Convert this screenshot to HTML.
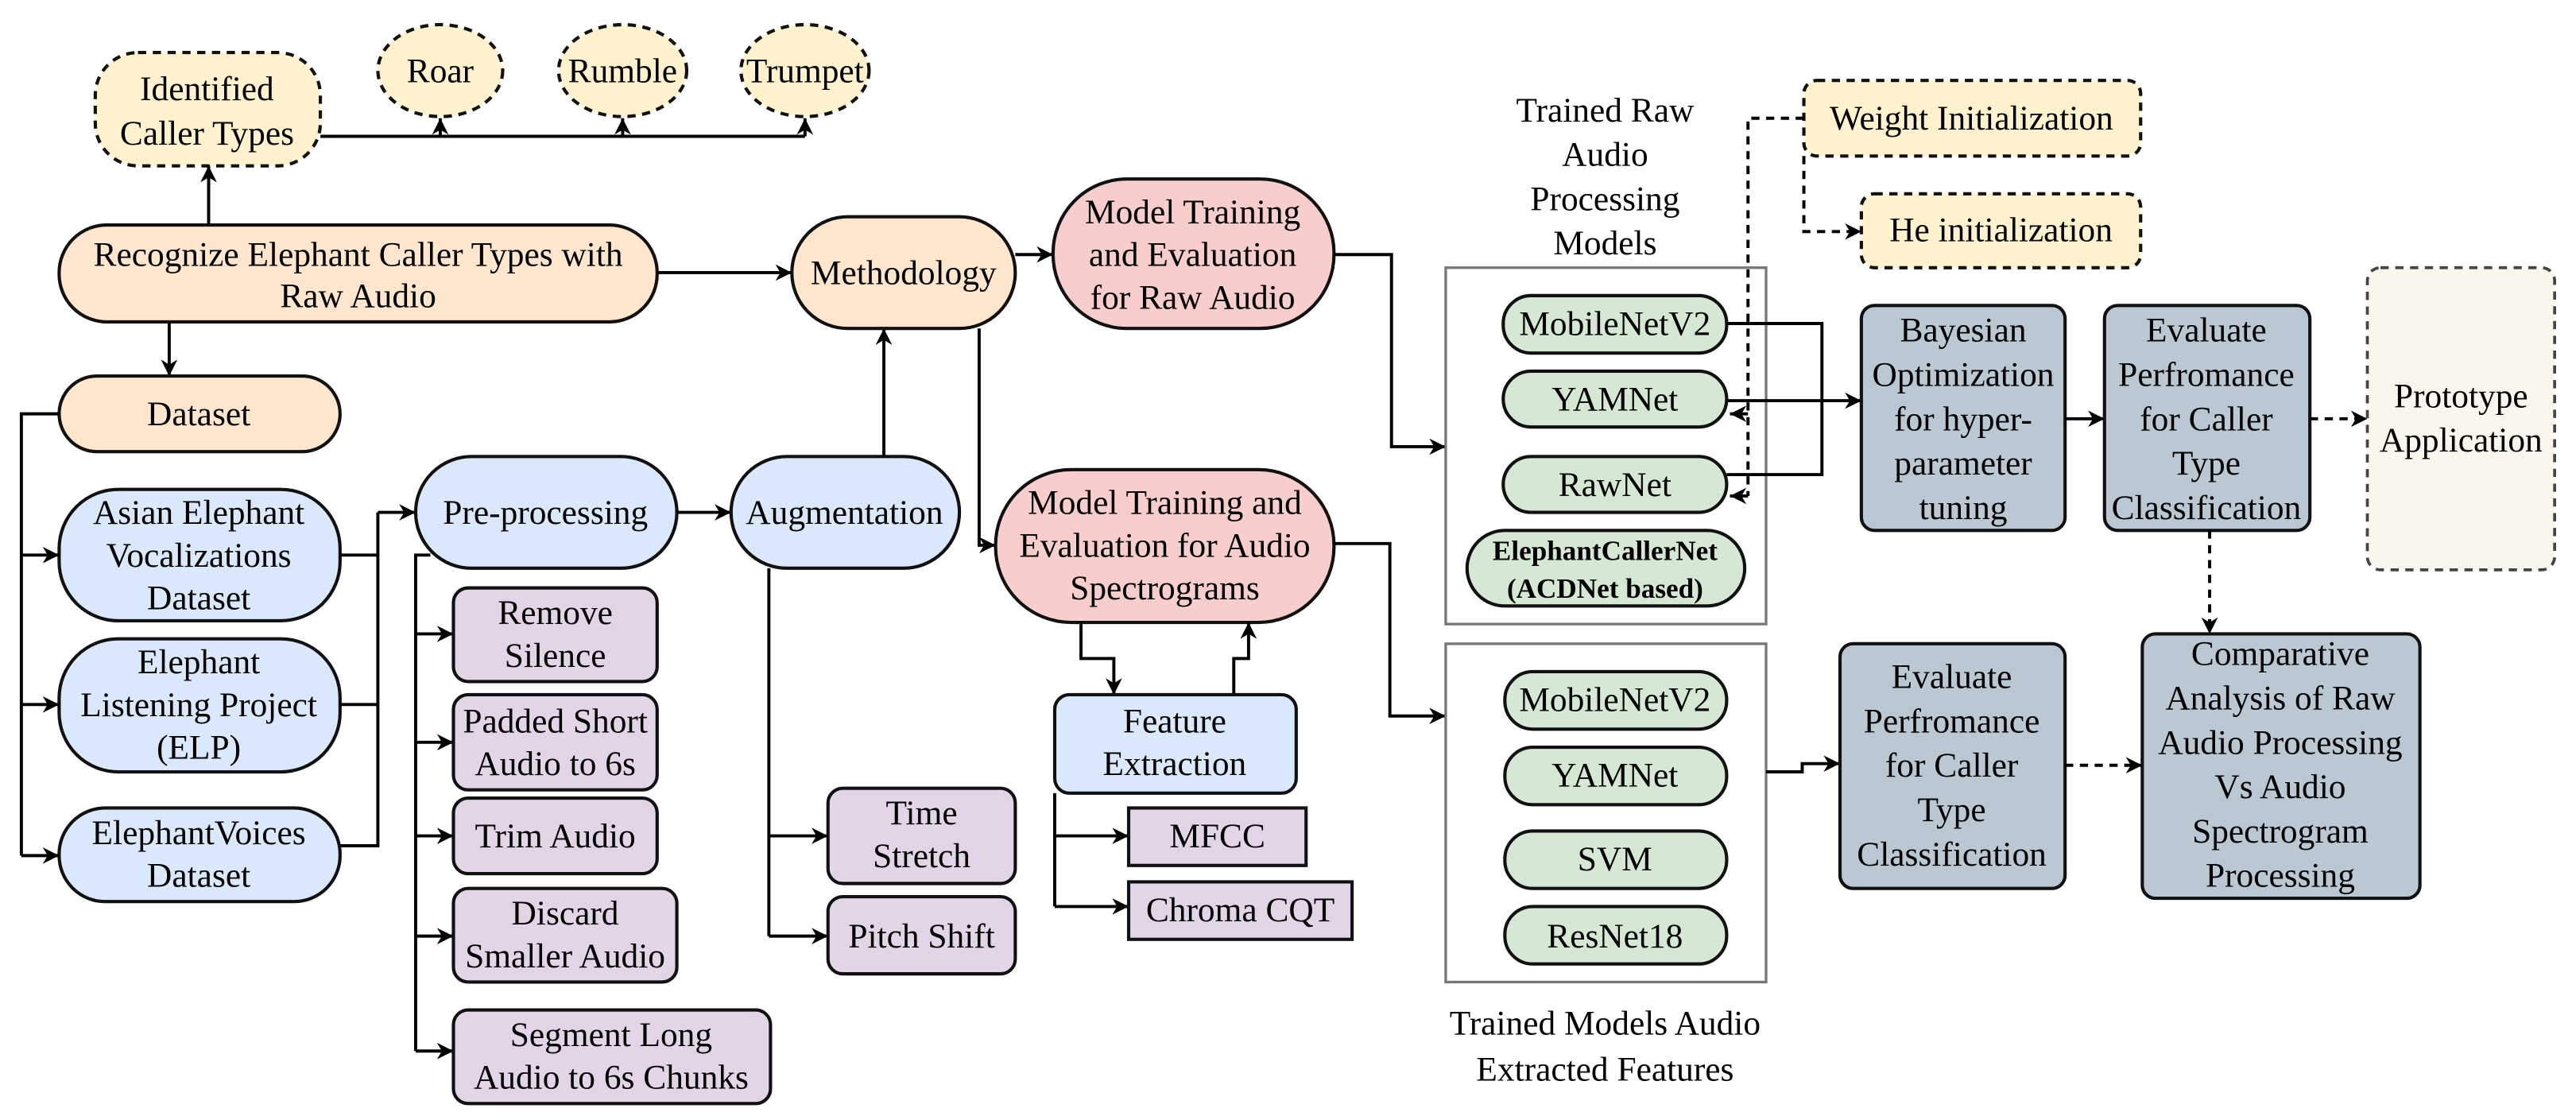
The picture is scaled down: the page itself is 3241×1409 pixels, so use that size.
<!DOCTYPE html>
<html><head><meta charset="utf-8"><style>
html,body{margin:0;padding:0;background:#fff;}
svg{display:block;}
svg text{font-family:"Liberation Serif","DejaVu Serif","Times New Roman",serif !important;font-size:21px;fill:#000;text-anchor:middle;}
.b{stroke:#111;stroke-width:2;}
.l{fill:none;stroke:#000;stroke-width:1.9;}
.d{fill:none;stroke:#000;stroke-width:1.9;stroke-dasharray:5 4;}
</style></head><body>
<svg width="3241" height="1409" viewBox="0 0 1568 682" preserveAspectRatio="none" xmlns="http://www.w3.org/2000/svg" font-family="Liberation Serif, DejaVu Serif, serif">
<defs>
<marker id="a" viewBox="0 0 10 10" refX="10" refY="5" markerWidth="10" markerHeight="10" orient="auto-start-reverse" markerUnits="userSpaceOnUse"><path d="M0,0 L10,5 L0,10 L3,5 z" fill="#000"/></marker>
</defs>
<g font-family="Liberation Serif, DejaVu Serif, serif">
<rect x="58" y="32" width="137" height="69" rx="26" fill="#fff2cc" class="b" stroke-dasharray="5 4"/>
<text x="126" y="61">Identified</text><text x="126" y="88">Caller Types</text>
<ellipse cx="268" cy="43" rx="38" ry="28" fill="#fff2cc" class="b" stroke-dasharray="5 4"/>
<ellipse cx="379" cy="43" rx="39" ry="28" fill="#fff2cc" class="b" stroke-dasharray="5 4"/>
<ellipse cx="490" cy="43" rx="39" ry="28" fill="#fff2cc" class="b" stroke-dasharray="5 4"/>
<text x="268" y="50">Roar</text><text x="379" y="50">Rumble</text><text x="490" y="50">Trumpet</text>
<path class="l" d="M195,83 H490"/>
<path class="l" d="M268,83 V72" marker-end="url(#a)"/>
<path class="l" d="M379,83 V72" marker-end="url(#a)"/>
<path class="l" d="M490,83 V72" marker-end="url(#a)"/>

<rect x="36" y="137" width="364" height="59" rx="29" fill="#ffe6cc" class="b"/>
<text x="218" y="162">Recognize Elephant Caller Types with</text><text x="218" y="187">Raw Audio</text>
<path class="l" d="M127,137 V101" marker-end="url(#a)"/>
<path class="l" d="M103,196 V229" marker-end="url(#a)"/>
<path class="l" d="M400,166 H482" marker-end="url(#a)"/>

<rect x="36" y="229" width="171" height="46" rx="23" fill="#ffe6cc" class="b"/>
<text x="121" y="259">Dataset</text>
<rect x="36" y="298" width="171" height="80" rx="36" fill="#dae8fc" class="b"/>
<text x="121" y="319">Asian Elephant</text><text x="121" y="345">Vocalizations</text><text x="121" y="371">Dataset</text>
<rect x="36" y="389" width="171" height="81" rx="36" fill="#dae8fc" class="b"/>
<text x="121" y="410">Elephant</text><text x="121" y="436">Listening Project</text><text x="121" y="462">(ELP)</text>
<rect x="36" y="492" width="171" height="57" rx="28" fill="#dae8fc" class="b"/>
<text x="121" y="514">ElephantVoices</text><text x="121" y="540">Dataset</text>
<path class="l" d="M36,252 H13 V521"/>
<path class="l" d="M13,338 H36" marker-end="url(#a)"/>
<path class="l" d="M13,429 H36" marker-end="url(#a)"/>
<path class="l" d="M13,521 H36" marker-end="url(#a)"/>
<path class="l" d="M207,338 H230 M207,429 H230 M207,515 H230 V312"/>
<path class="l" d="M230,312 H253" marker-end="url(#a)"/>

<rect x="253" y="278" width="159" height="68" rx="34" fill="#dae8fc" class="b"/>
<text x="332" y="319">Pre-processing</text>
<path class="l" d="M412,312 H445" marker-end="url(#a)"/>
<path class="l" d="M262,338 H253 V640"/>
<path class="l" d="M253,386 H276" marker-end="url(#a)"/>
<path class="l" d="M253,452 H276" marker-end="url(#a)"/>
<path class="l" d="M253,509 H276" marker-end="url(#a)"/>
<path class="l" d="M253,570 H276" marker-end="url(#a)"/>
<path class="l" d="M253,640 H276" marker-end="url(#a)"/>
<rect x="276" y="358" width="124" height="57" rx="9" fill="#e1d5e7" class="b"/>
<text x="338" y="380">Remove</text><text x="338" y="406">Silence</text>
<rect x="276" y="423" width="124" height="58" rx="9" fill="#e1d5e7" class="b"/>
<text x="338" y="446">Padded Short</text><text x="338" y="472">Audio to 6s</text>
<rect x="276" y="486" width="124" height="46" rx="9" fill="#e1d5e7" class="b"/>
<text x="338" y="516">Trim Audio</text>
<rect x="276" y="541" width="136" height="57" rx="9" fill="#e1d5e7" class="b"/>
<text x="344" y="563">Discard</text><text x="344" y="589">Smaller Audio</text>
<rect x="276" y="615" width="193" height="57" rx="9" fill="#e1d5e7" class="b"/>
<text x="372" y="637">Segment Long</text><text x="372" y="663">Audio to 6s Chunks</text>

<rect x="445" y="278" width="139" height="68" rx="34" fill="#dae8fc" class="b"/>
<text x="514" y="319">Augmentation</text>
<path class="l" d="M538,278 V200" marker-end="url(#a)"/>
<path class="l" d="M468,346 V570"/>
<path class="l" d="M468,509 H504" marker-end="url(#a)"/>
<path class="l" d="M468,570 H504" marker-end="url(#a)"/>
<rect x="504" y="480" width="114" height="58" rx="9" fill="#e1d5e7" class="b"/>
<text x="561" y="502">Time</text><text x="561" y="528">Stretch</text>
<rect x="504" y="546" width="114" height="47" rx="9" fill="#e1d5e7" class="b"/>
<text x="561" y="577">Pitch Shift</text>

<rect x="482" y="132" width="136" height="68" rx="34" fill="#ffe6cc" class="b"/>
<text x="550" y="173">Methodology</text>
<path class="l" d="M618,155 H641" marker-end="url(#a)"/>
<path class="l" d="M596,200 V332 H606" marker-end="url(#a)"/>

<rect x="641" y="109" width="171" height="91" rx="45" fill="#f8cecc" class="b"/>
<text x="726" y="136">Model Training</text><text x="726" y="162">and Evaluation</text><text x="726" y="188">for Raw Audio</text>
<path class="l" d="M812,155 H847 V272 H880" marker-end="url(#a)"/>

<rect x="606" y="286" width="206" height="93" rx="46" fill="#f8cecc" class="b"/>
<text x="709" y="313">Model Training and</text><text x="709" y="339">Evaluation for Audio</text><text x="709" y="365">Spectrograms</text>
<path class="l" d="M812,331 H846 V436 H880" marker-end="url(#a)"/>
<path class="l" d="M658,379 V401 H678 V423" marker-end="url(#a)"/>
<path class="l" d="M751,423 V401 H760 V379" marker-end="url(#a)"/>

<rect x="642" y="423" width="147" height="60" rx="9" fill="#dae8fc" class="b"/>
<text x="715" y="446">Feature</text><text x="715" y="472">Extraction</text>
<path class="l" d="M642,483 V552"/>
<path class="l" d="M642,509 H687" marker-end="url(#a)"/>
<path class="l" d="M642,552 H687" marker-end="url(#a)"/>
<rect x="687" y="492" width="108" height="35" fill="#e1d5e7" class="b"/>
<text x="741" y="516">MFCC</text>
<rect x="687" y="537" width="136" height="35" fill="#e1d5e7" class="b"/>
<text x="755" y="561">Chroma CQT</text>

<text x="977" y="74">Trained Raw</text><text x="977" y="101">Audio</text><text x="977" y="128">Processing</text><text x="977" y="155">Models</text>
<rect x="880" y="163" width="195" height="217" fill="#fff" stroke="#777" stroke-width="1.6"/>
<rect x="915" y="180" width="136" height="35" rx="17" fill="#d5e8d4" class="b"/>
<text x="983" y="204">MobileNetV2</text>
<rect x="915" y="226" width="136" height="34" rx="17" fill="#d5e8d4" class="b"/>
<text x="983" y="250">YAMNet</text>
<rect x="915" y="278" width="136" height="34" rx="17" fill="#d5e8d4" class="b"/>
<text x="983" y="302">RawNet</text>
<rect x="893" y="323" width="169" height="46" rx="23" fill="#d5e8d4" class="b"/>
<text x="977" y="341" style="font-weight:bold;font-size:17px">ElephantCallerNet</text><text x="977" y="364" style="font-weight:bold;font-size:17px">(ACDNet based)</text>
<path class="l" d="M1051,197 H1109 V289 H1051"/>
<path class="l" d="M1051,244 H1133" marker-end="url(#a)"/>

<rect x="1098" y="49" width="205" height="46" rx="8" fill="#fff2cc" class="b" stroke-dasharray="5 4"/>
<text x="1200" y="79">Weight Initialization</text>
<rect x="1133" y="118" width="170" height="45" rx="8" fill="#fff2cc" class="b" stroke-dasharray="5 4"/>
<text x="1218" y="147">He initialization</text>
<path class="d" d="M1098,72 H1064 V302"/>
<path class="d" d="M1064,252 H1053" marker-end="url(#a)"/>
<path class="d" d="M1064,302 H1053" marker-end="url(#a)"/>
<path class="d" d="M1098,95 V141 H1133" marker-end="url(#a)"/>

<rect x="1133" y="186" width="124" height="137" rx="8" fill="#bac8d3" class="b"/>
<text x="1195" y="208">Bayesian</text><text x="1195" y="235">Optimization</text><text x="1195" y="262">for hyper-</text><text x="1195" y="289">parameter</text><text x="1195" y="316">tuning</text>
<path class="l" d="M1257,255 H1281" marker-end="url(#a)"/>
<rect x="1281" y="186" width="125" height="137" rx="8" fill="#bac8d3" class="b"/>
<text x="1343" y="208">Evaluate</text><text x="1343" y="235">Perfromance</text><text x="1343" y="262">for Caller</text><text x="1343" y="289">Type</text><text x="1343" y="316">Classification</text>
<path class="d" d="M1406,255 H1441" marker-end="url(#a)"/>
<path class="d" d="M1345,323 V386" marker-end="url(#a)"/>
<rect x="1441" y="163" width="114" height="184" rx="8" fill="#f9f7ed" stroke="#444" stroke-width="1.8" stroke-dasharray="5 4"/>
<text x="1498" y="248">Prototype</text><text x="1498" y="275">Application</text>

<rect x="880" y="392" width="195" height="206" fill="#fff" stroke="#777" stroke-width="1.6"/>
<rect x="916" y="409" width="135" height="35" rx="17" fill="#d5e8d4" class="b"/>
<text x="983" y="433">MobileNetV2</text>
<rect x="916" y="455" width="135" height="35" rx="17" fill="#d5e8d4" class="b"/>
<text x="983" y="479">YAMNet</text>
<rect x="916" y="506" width="135" height="35" rx="17" fill="#d5e8d4" class="b"/>
<text x="983" y="530">SVM</text>
<rect x="916" y="552" width="135" height="35" rx="17" fill="#d5e8d4" class="b"/>
<text x="983" y="577">ResNet18</text>
<text x="977" y="630">Trained Models Audio</text><text x="977" y="658">Extracted Features</text>
<path class="l" d="M1075,470 H1097 V465 H1120" marker-end="url(#a)"/>
<rect x="1120" y="392" width="137" height="149" rx="8" fill="#bac8d3" class="b"/>
<text x="1188" y="419">Evaluate</text><text x="1188" y="446">Perfromance</text><text x="1188" y="473">for Caller</text><text x="1188" y="500">Type</text><text x="1188" y="527">Classification</text>
<path class="d" d="M1257,466 H1304" marker-end="url(#a)"/>
<rect x="1304" y="386" width="169" height="161" rx="8" fill="#bac8d3" class="b"/>
<text x="1388" y="405">Comparative</text><text x="1388" y="432">Analysis of Raw</text><text x="1388" y="459">Audio Processing</text><text x="1388" y="486">Vs Audio</text><text x="1388" y="513">Spectrogram</text><text x="1388" y="540">Processing</text>
</g>
</svg>
</body></html>
